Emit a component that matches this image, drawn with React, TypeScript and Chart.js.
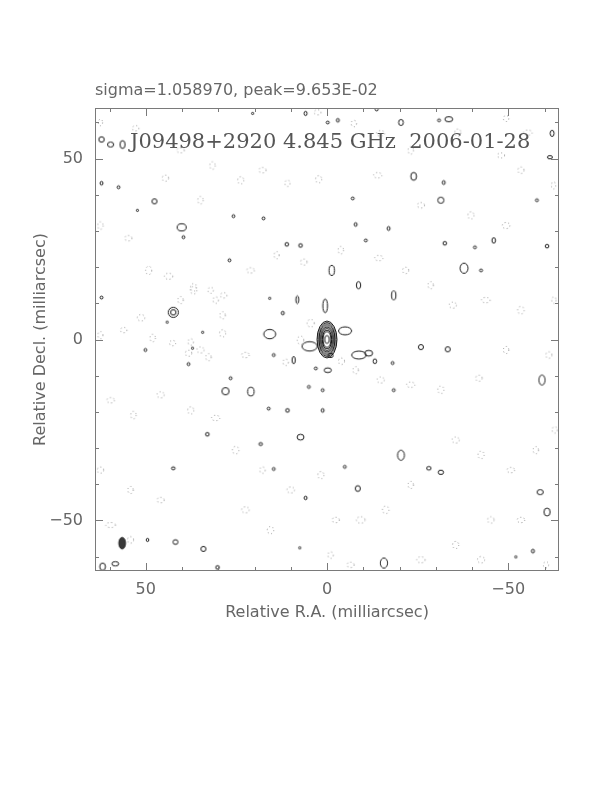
import { useEffect, useRef } from 'react';
import { Chart, registerables } from 'chart.js';
Chart.register(...registerables);

// ---- text ----
const topLabel = 'sigma=1.058970, peak=9.653E-02';
const mapTitle = 'J09498+2920 4.845 GHz  2006-01-28';
const xTitle = 'Relative R.A. (milliarcsec)';
const yTitle = 'Relative Decl. (milliarcsec)';

// ---- axes (milliarcsec) ----
const axisMin = -64;
const axisMax = 64;
const labelTicks = [-50, 0, 50];
const minorTicks = [-60, -50, -40, -30, -20, -10, 0, 10, 20, 30, 40, 50, 60];

// ---- core: nested positive contours centred on (0,0), full widths / heights in mas ----
const coreX = [0, 0, 0, 0, 0, 0, 0, 0, 0];
const coreY = [0, 0, 0, 0, 0, 0, 0, 0, 0];
const coreW = [5.5, 5.0, 4.4, 3.9, 3.45, 3.0, 2.6, 2.2, 1.3];
const coreH = [10.2, 9.4, 8.6, 7.7, 6.9, 6.1, 5.2, 4.4, 2.2];

// ---- positive (solid) contour islands: centre RA, Dec, width, height (mas) ----
const posX = [62.2, 59.7, 56.4, 20.5, 5.9, -0.2, -3.0, -13.7, -20.4, -30.9, -33.6, -62.1, -61.5, -23.9, -32.2, -31.4, -57.9, 62.2, 57.5, 47.6, 40.1, 39.6, 25.8, 17.5, 11.1, 7.3, -1.3, -7.1, -7.9, -10.7, -17.0, -32.5, -40.8, -46.0, -37.8, -42.5, -60.7, 42.4, 42.4, 26.9, 15.8, -25.9, -33.3, -59.3, 50.1, 38.2, 26.6, 28.0, 21.0, 16.1, 10.9, 1.2, 33.0, 18.3, 7.3, 42.4, 14.7, 5.9, -4.9, -8.5, -20.4, -28.1, -31.4, -58.8, -60.7, 34.1, 58.4, 61.9, 41.8, 49.5, -15.7, 7.5, 30.2, -56.8, -52.1, 62.2, -5.0, 4.8, 15.8, -8.8, 0.5, 8.2, -8.7, -18.4, 12.2, -0.2, 9.2, 5.0, 1.2, -18.4, -18.1, 14.7, 3.1, 44.1, 34.3, 37.1, 52.3, -1.0, -11.5, -13.2];
const posY = [55.3, 53.9, 53.9, 62.5, 62.5, 60.0, 60.6, 63.6, 60.0, 60.6, 60.9, 57.0, 50.4, 45.1, 43.4, 38.5, 38.5, 43.2, 42.1, 38.2, 31.0, 28.3, 34.1, 33.5, 26.3, 26.0, 19.1, 39.0, 31.8, 27.4, 30.7, 26.6, 25.5, 27.4, 19.7, 19.1, 25.8, 7.5, 7.5, 21.9, 11.4, -2.1, -2.7, -11.2, -2.9, -6.8, -10.7, -14.3, -14.4, -19.1, -19.6, -19.6, -26.2, -28.9, -27.0, -35.6, -35.8, -43.8, -35.2, -41.2, -32.0, -35.6, -36.7, -42.2, -47.7, -57.9, -62.0, -62.8, -56.0, -55.4, -61.8, -57.6, -63.0, -58.5, -60.1, 11.6, 2.4, -1.9, 1.5, -4.3, 9.3, 11.0, 15.0, 12.2, 7.3, -8.5, -5.7, -13.1, -14.0, -14.0, -6.5, -4.3, -8.0, 4.8, 2.0, -2.4, 35.7, -4.4, -3.8, -6.0];
const posW = [1.5, 1.7, 1.4, 0.6, 0.8, 0.8, 0.8, 0.8, 1.3, 0.8, 2.2, 1.1, 1.4, 1.6, 0.8, 1.7, 0.8, 0.8, 0.8, 1.4, 2.5, 0.8, 0.8, 0.8, 1.0, 1.0, 1.5, 0.8, 0.8, 0.8, 0.8, 1.0, 0.8, 1.0, 2.2, 0.8, 1.0, 2.8, 1.5, 0.8, 0.6, 1.4, 1.4, 1.7, 0.8, 0.8, 0.8, 2.0, 1.8, 0.8, 1.0, 0.8, 1.0, 1.0, 1.9, 1.0, 0.8, 0.8, 0.8, 1.4, 1.9, 1.2, 1.5, 1.7, 1.7, 1.4, 1.9, 1.6, 1.4, 0.7, 2.0, 0.6, 1.0, 0.8, 0.6, 0.8, 3.6, 4.2, 3.3, 4.0, 1.3, 0.8, 1.2, 1.2, 0.8, 2.0, 0.9, 0.8, 0.8, 0.8, 0.8, 0.8, 0.8, 0.6, 0.6, 0.6, 0.6, 1.4, 2.2, 1.0];
const posH = [1.5, 1.4, 2.2, 0.6, 1.2, 0.8, 1.0, 0.8, 1.7, 0.8, 1.4, 1.7, 0.9, 2.2, 1.1, 1.7, 0.8, 1.0, 0.8, 1.4, 2.0, 0.8, 0.8, 0.8, 1.0, 1.0, 2.8, 0.8, 1.0, 0.8, 1.1, 1.0, 0.8, 1.5, 2.8, 0.8, 1.0, 2.8, 1.5, 0.8, 0.6, 1.4, 1.4, 2.8, 0.8, 0.8, 0.8, 2.0, 2.4, 0.8, 1.0, 1.0, 1.0, 0.8, 1.6, 0.8, 0.8, 1.0, 0.8, 1.6, 2.8, 1.0, 1.2, 1.4, 2.2, 1.4, 1.2, 2.0, 1.3, 0.9, 2.8, 0.6, 1.0, 1.1, 0.6, 0.8, 2.2, 2.6, 2.6, 2.2, 3.8, 2.2, 2.0, 2.5, 1.0, 1.3, 2.0, 0.8, 0.8, 0.8, 0.8, 0.8, 0.8, 0.6, 0.6, 0.6, 0.6, 1.2, 1.6, 1.3];

// ---- negative (dashed) contour islands ----
const negX = [2.6, -7.4, -14.8, -36.1, -55.4, -49.4, 62.5, 52.8, 40.4, 31.6, 17.8, 10.9, 2.3, -14.0, -23.1, -48.0, -53.5, -62.5, 62.5, 54.8, 49.2, 43.7, 36.8, 30.7, 21.1, 13.9, 6.4, -3.8, -14.3, -21.7, -28.6, -34.7, -43.8, -53.5, -62.6, 62.5, 56.1, 48.1, 34.9, 28.8, 22.5, 11.4, 7.3, -7.9, -14.8, -23.1, -31.4, -41.9, -49.4, -61.2, 59.7, 53.4, 45.9, 37.6, 30.7, 25.2, 17.8, 10.0, 1.7, -2.4, -9.3, -16.2, -23.1, -35.5, -42.5, -50.7, -57.6, -62.8, 62.5, 54.2, 45.9, 59.7, 54.2, 22.5, 15.6, -1.0, -6.5, -25.9, -35.5, -45.2, -53.5, -60.4, -42.5, 23.8, 44.6, 34.9, -25.9, -39.7, -49.4, 51.3, 40.4, 36.8, 32.1, 28.5, 28.8, 42.6, 37.6, 38.2, 32.7, 4.5, -4.0];
const negY = [62.8, 59.7, 57.0, 57.2, 57.2, 61.1, 60.0, 58.4, 52.3, 48.1, 46.8, 43.2, 44.3, 45.4, 52.3, 50.9, 46.8, 42.6, 31.5, 28.0, 19.1, 17.5, 13.6, 10.9, 19.1, 23.3, 21.4, 24.7, 22.5, 19.1, 15.0, 9.5, 10.9, 8.1, 10.9, 1.2, 2.6, 0.4, -2.9, 1.7, -4.3, -6.3, -0.2, -8.5, -11.2, -12.5, -13.9, -10.7, -2.9, -4.3, -16.8, -20.9, -15.3, -19.6, -21.7, -30.6, -36.1, -41.6, -37.5, -49.9, -49.9, -47.1, -40.2, -27.8, -31.9, -36.1, -30.6, -25.0, -36.1, -41.6, -44.4, -51.3, -55.4, -47.1, -52.7, -59.6, -62.3, -60.9, -56.8, -49.9, -49.9, -62.3, -60.9, 44.0, 44.6, 38.5, 37.1, 34.3, 31.5, 6.0, 10.9, 14.4, 13.6, 12.2, 6.7, -1.0, -0.7, -3.8, -4.9, 4.5, -6.0];
const negW = [1.9, 1.5, 2.3, 1.7, 2.4, 1.5, 1.2, 1.8, 2.1, 1.5, 2.0, 1.4, 1.7, 2.3, 1.5, 2.0, 1.7, 1.2, 1.5, 2.0, 1.7, 2.3, 1.8, 1.5, 2.1, 1.4, 1.8, 1.5, 2.3, 1.7, 1.5, 2.0, 2.4, 1.8, 1.2, 1.4, 1.8, 1.5, 2.0, 1.7, 2.1, 1.5, 1.8, 1.5, 2.0, 2.3, 1.7, 1.8, 1.5, 1.7, 2.1, 1.5, 2.0, 1.7, 2.3, 1.8, 1.5, 2.1, 1.7, 2.0, 2.4, 1.8, 1.5, 2.0, 1.7, 2.1, 1.5, 1.4, 1.8, 1.5, 2.0, 2.7, 1.7, 2.1, 1.8, 1.5, 2.0, 2.3, 1.7, 1.8, 2.1, 1.5, 2.0, 1.7, 1.8, 1.5, 2.0, 1.7, 2.1, 2.1, 1.5, 1.7, 1.5, 1.8, 1.5, 1.7, 1.5, 1.8, 1.5, 2.0, 1.7];
const negH = [1.4, 1.8, 1.5, 2.0, 1.4, 1.7, 1.8, 1.5, 1.4, 2.1, 1.5, 1.8, 2.0, 1.5, 2.1, 1.4, 1.8, 2.0, 2.1, 1.5, 2.3, 1.7, 2.1, 1.8, 1.5, 2.0, 1.7, 2.1, 1.5, 1.8, 2.0, 1.7, 1.5, 2.1, 1.8, 2.0, 1.5, 2.1, 1.7, 2.0, 1.5, 1.8, 2.3, 2.0, 1.7, 1.5, 2.1, 1.7, 2.0, 1.8, 1.5, 2.1, 1.7, 2.0, 1.5, 2.1, 1.8, 1.7, 2.0, 1.5, 1.8, 2.1, 2.0, 1.7, 2.1, 1.5, 2.0, 1.8, 1.7, 2.0, 1.5, 1.4, 1.8, 1.7, 2.0, 1.8, 1.5, 1.7, 2.0, 1.8, 1.5, 1.7, 1.8, 2.0, 1.7, 2.1, 1.5, 2.0, 1.7, 1.8, 2.0, 2.1, 1.7, 1.5, 2.0, 1.5, 1.8, 1.7, 2.0, 2.1, 1.8];

// ---- restoring beam ----
const beamX = [56.5];
const beamY = [-56.3];
const beamW = [1.85];
const beamH = [3.2];

const TEXT_FONT = 'DejaVu Sans';
const TEXT_COLOR = '#666';

const fmtTick = (v: number) => (v < 0 ? '\u2212' + Math.abs(v) : String(v));

const spriteCache = new Map<string, HTMLCanvasElement>();
function sprite(wPx: number, hPx: number, kind: string): HTMLCanvasElement {
  const key = `${kind}:${wPx.toFixed(2)}:${hPx.toFixed(2)}`;
  const hit = spriteCache.get(key);
  if (hit) return hit;
  const pad = 3;
  const cw = Math.ceil(wPx + pad * 2);
  const ch = Math.ceil(hPx + pad * 2);
  const c = document.createElement('canvas');
  c.width = cw;
  c.height = ch;
  const g = c.getContext('2d')!;
  g.beginPath();
  g.ellipse(cw / 2, ch / 2, Math.max(wPx / 2, 0.9), Math.max(hPx / 2, 0.9), 0, 0, Math.PI * 2);
  if (kind === 'fill') {
    g.fillStyle = '#3a3a3a';
    g.fill();
    g.strokeStyle = '#222';
    g.lineWidth = 1;
    g.stroke();
  } else if (kind === 'dash') {
    g.setLineDash([1, 2.6]);
    g.strokeStyle = '#8f8f8f';
    g.lineWidth = 1;
    g.stroke();
  } else {
    g.strokeStyle = '#1a1a1a';
    g.lineWidth = 1;
    g.stroke();
  }
  spriteCache.set(key, c);
  return c;
}

const framePlugin = {
  id: 'pgframe',
  beforeDatasetsDraw(chart: any) {
    const { ctx, chartArea: a } = chart;
    ctx.save();
    ctx.fillStyle = '#555';
    ctx.font = `21px "DejaVu Serif"`;
    ctx.textAlign = 'left';
    ctx.textBaseline = 'alphabetic';
    ctx.fillText(mapTitle, a.left + 35, a.top + 40);
    ctx.restore();
  },
  afterDatasetsDraw(chart: any) {
    const { ctx, chartArea: a, scales } = chart;
    const xs = scales.x;
    const ys = scales.y;
    ctx.save();
    ctx.strokeStyle = '#7a7a7a';
    ctx.lineWidth = 1;
    ctx.strokeRect(a.left + 0.5, a.top + 0.5, a.right - a.left - 1, a.bottom - a.top - 1);
    ctx.beginPath();
    for (const v of minorTicks) {
      const len = labelTicks.includes(v) ? 8 : 4;
      const px = Math.round(xs.getPixelForValue(v)) + 0.5;
      ctx.moveTo(px, a.bottom);
      ctx.lineTo(px, a.bottom - len);
      ctx.moveTo(px, a.top);
      ctx.lineTo(px, a.top + len);
      const py = Math.round(ys.getPixelForValue(v)) + 0.5;
      ctx.moveTo(a.left, py);
      ctx.lineTo(a.left + len, py);
      ctx.moveTo(a.right, py);
      ctx.lineTo(a.right - len, py);
    }
    ctx.stroke();
    ctx.fillStyle = TEXT_COLOR;
    ctx.font = `16px "${TEXT_FONT}"`;
    ctx.textAlign = 'left';
    ctx.textBaseline = 'alphabetic';
    ctx.fillText(topLabel, a.left, a.top - 13);
    ctx.restore();
  },
};

export default function App() {
  const ref = useRef<HTMLCanvasElement>(null);
  useEffect(() => {
    const canvas = ref.current!;
    const unitX = (chart: any) => Math.abs(chart.scales.x.getPixelForValue(1) - chart.scales.x.getPixelForValue(0));
    const unitY = (chart: any) => Math.abs(chart.scales.y.getPixelForValue(1) - chart.scales.y.getPixelForValue(0));
    const styleFor = (ws: number[], hs: number[], kind: string) => (c: any) => {
      const i = c.dataIndex;
      if (i === undefined || ws[i] === undefined) return 'circle';
      return sprite(ws[i] * unitX(c.chart), hs[i] * unitY(c.chart), kind);
    };
    const pts = (xs: number[], ys: number[]) => xs.map((x, i) => ({ x, y: ys[i] }));
    const base = { showLine: false, pointRadius: 3, pointHoverRadius: 3, clip: 0 };
    const chart = new Chart(canvas, {
      type: 'scatter',
      data: {
        datasets: [
          { ...base, label: 'negative', data: pts(negX, negY), pointStyle: styleFor(negW, negH, 'dash') as any },
          { ...base, label: 'positive', data: pts(posX, posY), pointStyle: styleFor(posW, posH, 'line') as any },
          { ...base, label: 'core', data: pts(coreX, coreY), pointStyle: styleFor(coreW, coreH, 'line') as any },
          { ...base, label: 'beam', data: pts(beamX, beamY), pointStyle: styleFor(beamW, beamH, 'fill') as any },
        ],
      },
      options: {
        responsive: false,
        animation: false,
        events: [],
        layout: { padding: { left: 0, top: 108, right: 53, bottom: 0 } },
        plugins: { legend: { display: false }, tooltip: { enabled: false }, title: { display: false } },
        scales: {
          x: {
            type: 'linear',
            min: axisMin,
            max: axisMax,
            reverse: true,
            grid: { display: false, drawTicks: false },
            border: { display: false },
            ticks: { font: { family: TEXT_FONT, size: 16 }, color: TEXT_COLOR, padding: 9, callback: (v: any) => fmtTick(Number(v)) },
            title: { display: true, text: xTitle, font: { family: TEXT_FONT, size: 16 }, color: TEXT_COLOR, padding: { top: 0, bottom: 170 } },
            afterBuildTicks: (s: any) => { s.ticks = labelTicks.map((v) => ({ value: v })); },
            afterFit: (s: any) => { s.height = 221; },
          },
          y: {
            type: 'linear',
            min: axisMin,
            max: axisMax,
            grid: { display: false, drawTicks: false },
            border: { display: false },
            ticks: { font: { family: TEXT_FONT, size: 16 }, color: TEXT_COLOR, padding: 12, callback: (v: any) => fmtTick(Number(v)) },
            title: { display: true, text: yTitle, font: { family: TEXT_FONT, size: 16 }, color: TEXT_COLOR, padding: { top: 31, bottom: 0 } },
            afterBuildTicks: (s: any) => { s.ticks = labelTicks.map((v) => ({ value: v })); },
            afterFit: (s: any) => { s.width = 95; },
          },
        },
      },
      plugins: [framePlugin],
    });
    return () => chart.destroy();
  }, []);
  return (
    <div style={{ position: 'absolute', left: 0, top: 0, width: 612, height: 792, background: '#fff' }}>
      <canvas ref={ref} width={612} height={792} style={{ display: 'block', width: 612, height: 792 }} />
    </div>
  );
}
